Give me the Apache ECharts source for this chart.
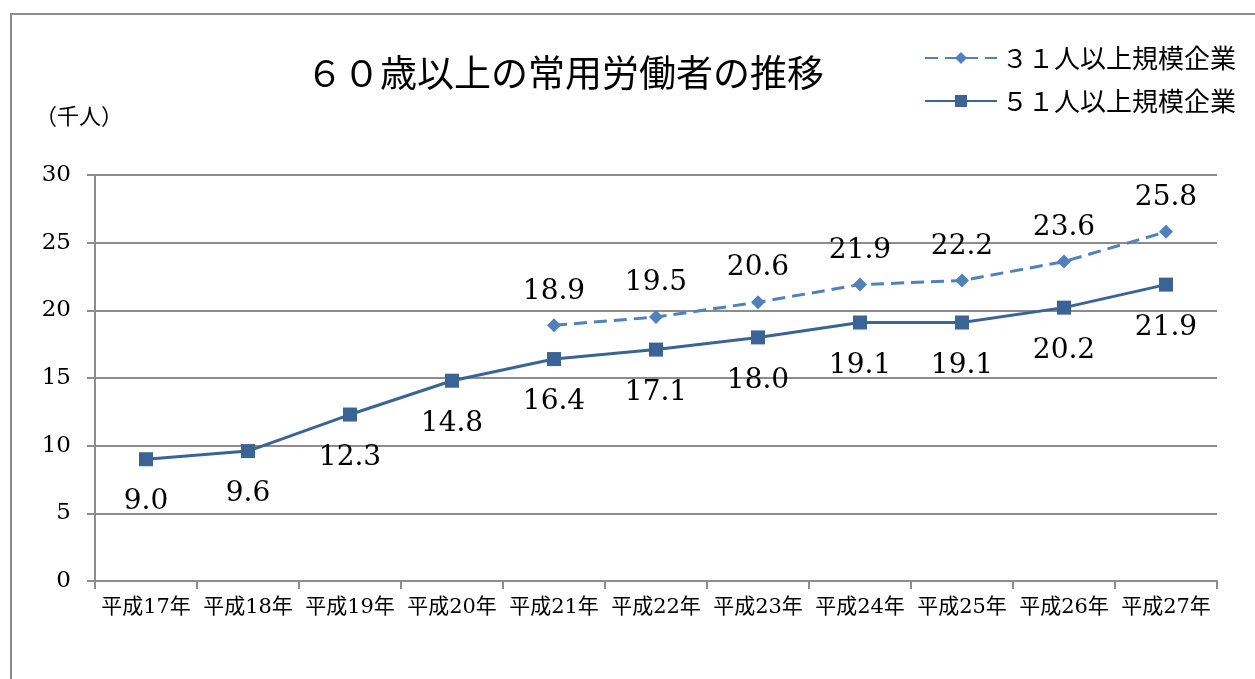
<!DOCTYPE html>
<html>
<head>
<meta charset="utf-8">
<script src="https://cdn.jsdelivr.net/npm/echarts@6/dist/echarts.min.js"></script>
<style>
html,body{margin:0;padding:0;background:#fff;}
#c{width:1255px;height:679px;}
</style>
</head>
<body>
<div id="c"></div>
<script>
const categories = ['平成17年','平成18年','平成19年','平成20年','平成21年','平成22年','平成23年','平成24年','平成25年','平成26年','平成27年'];
const series31 = [null, null, null, null, 18.9, 19.5, 20.6, 21.9, 22.2, 23.6, 25.8];
const series51 = [9.0, 9.6, 12.3, 14.8, 16.4, 17.1, 18.0, 19.1, 19.1, 20.2, 21.9];
const name31 = '３１人以上規模企業';
const name51 = '５１人以上規模企業';
const titleText = '６０歳以上の常用労働者の推移';
const unitText = '（千人）';

const serif = '"DejaVu Serif","Liberation Serif","Noto Sans CJK JP",serif';
const cjk = '"Noto Sans CJK JP","DejaVu Serif",sans-serif';
const gray = '#8c8c8c';
const chart = echarts.init(document.getElementById('c'));
chart.setOption({
  animation: false,
  backgroundColor: '#fff',
  title: {
    text: titleText, left: 560, top: 49, textAlign: 'center',
    textStyle: {fontSize: 37, fontWeight: 'normal', color: '#000', fontFamily: cjk}
  },
  legend: {
    orient: 'vertical', left: 919, top: 40, itemWidth: 72, itemHeight: 15, itemGap: 17,
    textStyle: {fontSize: 26, color: '#000', fontFamily: cjk},
    data: [name31, name51]
  },
  graphic: [
    {type: 'rect', shape: {x: 11, y: 14, width: 1300, height: 720}, style: {fill: 'none', stroke: gray, lineWidth: 2}},
    {type: 'text', left: 35, top: 105, style: {text: unitText, fontSize: 22, fill: '#000', fontFamily: cjk}}
  ],
  grid: {left: 95, top: 175, width: 1122, height: 406, containLabel: false},
  xAxis: {
    type: 'category', data: categories, boundaryGap: true,
    axisLine: {lineStyle: {color: gray, width: 2}},
    axisTick: {show: true, alignWithLabel: false, length: 8, lineStyle: {color: gray, width: 2}},
    axisLabel: {fontSize: 21, color: '#000', margin: 16, fontFamily: serif, interval: 0}
  },
  yAxis: {
    type: 'value', min: 0, max: 30, interval: 5,
    axisLine: {show: true, lineStyle: {color: gray, width: 2}},
    axisTick: {show: true, length: 8, lineStyle: {color: gray, width: 2}},
    axisLabel: {fontSize: 23, color: '#000', margin: 24, fontFamily: serif},
    splitLine: {lineStyle: {color: gray, width: 2}}
  },
  series: [
    {
      name: name31, type: 'line', data: series31, connectNulls: false,
      symbol: 'diamond', symbolSize: 14, showAllSymbol: true,
      lineStyle: {color: '#4f81bd', width: 3, type: [13, 7]},
      itemStyle: {color: '#4f81bd'},
      label: {show: true, position: 'top', distance: 13, fontSize: 28, color: '#000', fontFamily: serif,
        formatter: p => p.value == null ? '' : Number(p.value).toFixed(1)}
    },
    {
      name: name51, type: 'line', data: series51,
      symbol: 'rect', symbolSize: 14, showAllSymbol: true,
      lineStyle: {color: '#3a6496', width: 3},
      itemStyle: {color: '#3a6496'},
      label: {show: true, position: 'bottom', distance: 22, fontSize: 28, color: '#000', fontFamily: serif,
        formatter: p => Number(p.value).toFixed(1)}
    }
  ]
});
</script>
</body>
</html>
